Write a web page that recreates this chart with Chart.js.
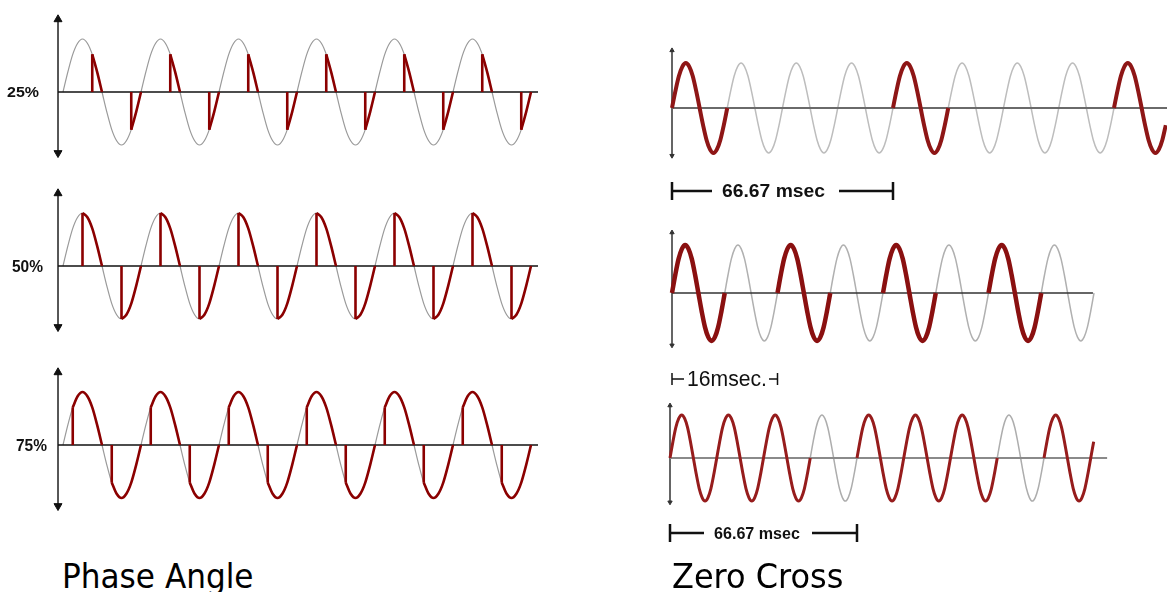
<!DOCTYPE html>
<html>
<head>
<meta charset="utf-8">
<title>Phase Angle vs Zero Cross</title>
<script src="https://cdn.jsdelivr.net/npm/chart.js@4.4.0/dist/chart.umd.min.js"></script>
<style>
  body { margin: 0; background: #fff; width: 1167px; height: 592px; overflow: hidden; position: relative; }
  canvas { position: absolute; }
  .title { position: absolute; font-family: "DejaVu Sans", Verdana, sans-serif; font-size: 34px; line-height: 34px; color: #000; white-space: nowrap; transform-origin: left top; }
</style>
</head>
<body>
<canvas id="pa0"></canvas>
<canvas id="pa1"></canvas>
<canvas id="pa2"></canvas>
<canvas id="zc0"></canvas>
<canvas id="zc1"></canvas>
<canvas id="zc2"></canvas>
<div class="title" style="left:62px; top:559px; transform: scaleX(0.916)">Phase Angle</div>
<div class="title" style="left:672px; top:559px; transform: scaleX(0.94)">Zero Cross</div>
<script>
// one mains cycle, sampled every 22.5 degrees (peak = 1)
const waveCycle = [0, 0.38, 0.71, 0.92, 1, 0.92, 0.71, 0.38, 0, -0.38, -0.71, -0.92, -1, -0.92, -0.71, -0.38];
const stepsPerCycle = waveCycle.length;
const halfSteps = stepsPerCycle / 2;

// phase angle control: label and the sample in each half cycle where the triac fires
const phaseLabels = ['25%', '50%', '75%'];
const phaseFireStep = [6, 4, 2];
const phaseCycles = 6;

// zero cross control: cycles passed (1) or skipped (0)
const zeroCrossOn = [
    [1, 0, 0, 0, 1, 0, 0, 0, 1],
    [1, 0, 1, 0, 1, 0, 1, 0],
    [1, 1, 1, 0, 1, 1, 1, 0, 1, 1]
];
const zeroCrossEnd = [8.9375, 8, 9.0625];   // cycles drawn
const bracketCycles = [4, 2, 4];
const bracketText = ['66.67 msec', '16msec.', '66.67 msec'];

// ---- layout / style ----
const phaseLayout = {
    left: 0, width: 560, height: 170, topPx: 85, x0: 63, period: 78, amp: 53,
    zeroY: [92, 266, 445], axisX: -0.064, zeroEnd: 6.09, axisTop: 1.37, axisBottom: -1.15,
    labelLeft: [7, 12, 16], labelW: [32, 31, 31], labelBase: [97, 272, 451],
    labelFont: ['bold 15px "Liberation Sans", Arial, sans-serif', 'bold 17px "Liberation Sans", Arial, sans-serif', 'bold 17px "Liberation Sans", Arial, sans-serif']
};
const zcLayout = [
    { zeroY: 108, x0: 32, period: 55.25, amp: 45, axisTop: 1.28, axisBottom: -1.06, zeroEnd: 9.0,
      red: '#8e1616', redW: 4, grey: '#bdbdbd', zeroCol: '#6a6a6a', zeroW: 2 },
    { zeroY: 293, x0: 32, period: 52.75, amp: 48, axisTop: 1.26, axisBottom: -1.09, zeroEnd: 7.98,
      red: '#8a1010', redW: 4.5, grey: '#b0b0b0', zeroCol: '#333', zeroW: 1.5 },
    { zeroY: 458, x0: 30, period: 46.75, amp: 43, axisTop: 1.22, axisBottom: -1.03, zeroEnd: 9.35,
      red: '#961c1c', redW: 3, grey: '#adadad', zeroCol: '#8a8a8a', zeroW: 2 }
];
const bracketStyle = [
    { dy: 83, bar: 18, lw: 2.5, textLeft: 50, textW: 103, base: 89, gapL: 10, gapR: 14,
      font: 'bold 19px "Liberation Sans", Arial, sans-serif' },
    { dy: 86, bar: 12, lw: 1.5, textLeft: 15, textW: 80, base: 93, gapL: 3, gapR: 2,
      font: '22px "Liberation Sans", Arial, sans-serif' },
    { dy: 75, bar: 18, lw: 2.5, textLeft: 44, textW: 86, base: 81, gapL: 10, gapR: 12,
      font: 'bold 17px "Liberation Sans", Arial, sans-serif' }
];

function wavePoints(fromStep, toStep) {
    const pts = [];
    for (let i = fromStep; i <= toStep; i++) {
        pts.push({ x: i / stepsPerCycle, y: waveCycle[i % stepsPerCycle] });
    }
    return pts;
}

function fitText(ctx, text, left, base, width, font) {
    ctx.save();
    ctx.font = font;
    const w = ctx.measureText(text).width;
    ctx.translate(left, base);
    ctx.scale(width / w, 1);
    ctx.textAlign = 'left';
    ctx.textBaseline = 'alphabetic';
    ctx.fillStyle = '#111';
    ctx.fillText(text, 0, 0);
    ctx.restore();
}

function lineSet(data, color, width, order, extra) {
    return Object.assign({
        data: data, showLine: true, borderColor: color, borderWidth: width,
        pointRadius: 0, clip: false, order: order, spanGaps: false
    }, extra || {});
}

function axisSet(x, top, bottom, color, width, r) {
    return lineSet([{ x: x, y: top }, { x: x, y: bottom }], color, width, 1, {
        pointRadius: r, pointStyle: 'triangle', pointBackgroundColor: color,
        pointBorderColor: color, pointBorderWidth: 1,
        pointRotation: ctx => ctx.dataIndex === 0 ? 0 : 180
    });
}

function makeChart(id, box, datasets, afterDraw) {
    const canvas = document.getElementById(id);
    canvas.width = box.width;
    canvas.height = box.height;
    canvas.style.left = box.left + 'px';
    canvas.style.top = (box.zeroY - box.topPx) + 'px';
    return new Chart(canvas.getContext('2d'), {
        type: 'scatter',
        data: { datasets: datasets },
        options: {
            responsive: false,
            animation: false,
            events: [],
            layout: { padding: 0, autoPadding: false },
            scales: {
                x: { type: 'linear', display: false, min: -box.x0 / box.period, max: (box.width - box.x0) / box.period },
                y: { type: 'linear', display: false, min: -(box.height - box.topPx) / box.amp, max: box.topPx / box.amp }
            },
            plugins: { legend: { display: false }, tooltip: { enabled: false } }
        },
        plugins: [{ id: 'extras', afterDraw: afterDraw }]
    });
}

// ---- phase angle charts ----
phaseLabels.forEach(function(label, n) {
    const fire = phaseFireStep[n];
    const curves = [];
    const bars = [];
    for (let h = 0; h < phaseCycles * 2; h++) {
        const s = h * halfSteps + fire;
        const xs = s / stepsPerCycle;
        curves.push(...wavePoints(s, (h + 1) * halfSteps), { x: (h + 1) * halfSteps / stepsPerCycle, y: null });
        bars.push({ x: xs, y: 0 }, { x: xs, y: waveCycle[s % stepsPerCycle] }, { x: xs, y: null });
    }
    const L = phaseLayout;
    const box = { left: L.left, width: L.width, height: L.height, topPx: L.topPx, x0: L.x0, period: L.period, amp: L.amp, zeroY: L.zeroY[n] };
    makeChart('pa' + n, box, [
        lineSet(curves, '#8b0000', 2.6, 0, { cubicInterpolationMode: 'monotone' }),
        lineSet(bars, '#8b0000', 2.6, 0),
        lineSet([{ x: L.axisX, y: 0 }, { x: L.zeroEnd, y: 0 }], '#111', 1.4, 1),
        axisSet(L.axisX, L.axisTop, L.axisBottom, '#111', 1.4, 4.6),
        lineSet(wavePoints(0, phaseCycles * stepsPerCycle), '#9a9a9a', 1.2, 2, { cubicInterpolationMode: 'monotone' })
    ], function(chart) {
        const top = L.zeroY[n] - L.topPx;
        fitText(chart.ctx, label, L.labelLeft[n], L.labelBase[n] - top, L.labelW[n], L.labelFont[n]);
    });
});

// ---- zero cross charts ----
zeroCrossOn.forEach(function(pattern, n) {
    const Z = zcLayout[n];
    const endStep = Math.round(zeroCrossEnd[n] * stepsPerCycle);
    const red = [];
    pattern.forEach(function(on, c) {
        if (!on) return;
        const a = c * stepsPerCycle;
        const b = Math.min((c + 1) * stepsPerCycle, endStep);
        if (a >= b) return;
        red.push(...wavePoints(a, b), { x: b / stepsPerCycle, y: null });
    });
    const box = { left: 640, width: 527, height: 175, topPx: 70, x0: Z.x0, period: Z.period, amp: Z.amp, zeroY: Z.zeroY };
    const B = bracketStyle[n];
    makeChart('zc' + n, box, [
        lineSet(red, Z.red, Z.redW, 0, { cubicInterpolationMode: 'monotone' }),
        lineSet([{ x: 0, y: 0 }, { x: Z.zeroEnd, y: 0 }], Z.zeroCol, Z.zeroW, 1),
        axisSet(0, Z.axisTop, Z.axisBottom, '#333', 1.5, 2.5),
        lineSet(wavePoints(0, endStep), Z.grey, 1.5, 2, { cubicInterpolationMode: 'monotone' })
    ], function(chart) {
        const ctx = chart.ctx;
        const xs = chart.scales.x, ys = chart.scales.y;
        const xa = xs.getPixelForValue(0);
        const xb = xs.getPixelForValue(bracketCycles[n]);
        const y0 = ys.getPixelForValue(0);
        const yb = y0 + B.dy;
        const tl = xa + B.textLeft;
        ctx.save();
        ctx.strokeStyle = '#111';
        ctx.lineWidth = B.lw;
        ctx.beginPath();
        ctx.moveTo(xa, yb - B.bar / 2); ctx.lineTo(xa, yb + B.bar / 2);
        ctx.moveTo(xb, yb - B.bar / 2); ctx.lineTo(xb, yb + B.bar / 2);
        ctx.moveTo(xa, yb); ctx.lineTo(tl - B.gapL, yb);
        ctx.moveTo(tl + B.textW + B.gapR, yb); ctx.lineTo(xb, yb);
        ctx.stroke();
        ctx.restore();
        fitText(ctx, bracketText[n], tl, y0 + B.base, B.textW, B.font);
    });
});
</script>
</body>
</html>
